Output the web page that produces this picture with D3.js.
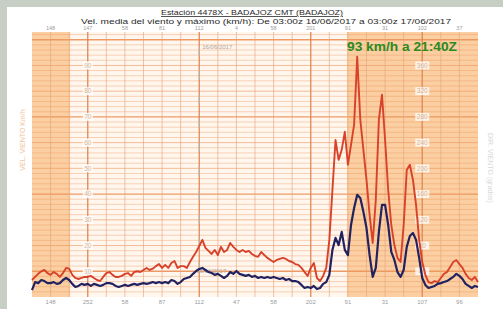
<!DOCTYPE html>
<html>
<head>
<meta charset="utf-8">
<script src="https://cdn.jsdelivr.net/npm/d3@7"></script>
<style>
  body { margin: 0; background: #c7cfc4; }
  #chart { position: absolute; left: 0; top: 0; }
</style>
</head>
<body>
<div id="chart"></div>
<script>
// racha maxima (km/h), cada 10 minutos desde 03:00z
const gustSpeed = [
  6.6,7.8,9,10,10.5,9.3,8.6,9.7,9,7.8,
  9.3,11.3,11,8.6,7.4,7,7.4,7.8,7.8,8.2,
  7.4,6.6,6.2,7.8,9.3,9.7,8.6,7.8,7.8,8.2,
  9,9.3,8.2,9.7,10,9.7,10.5,11.3,10.5,11,
  12,12.8,11.3,12.5,11.3,13.2,14,11.3,12,12,
  11.3,13.6,15.6,17.5,19.8,22.2,19.1,17.9,16.7,18.3,
  16.3,19.5,17.5,18.3,21,19.5,18.3,17.5,18.3,17.5,
  17.9,16.7,16,15.6,17.5,16.3,15.2,14.4,13.6,14.4,
  14.8,15.2,14.8,14,13.6,12.8,12.5,11.3,9.7,8.2,
  11.3,13.2,7.4,6.2,8.2,11.3,22.2,41.6,61,53.3,
  57.2,64.2,51.4,59.1,67,93.4,68.9,57.2,45.5,31.9,
  21,37.7,68.9,78.6,61,41.6,28,20.2,15.2,13.6,
  28,49.4,51.4,45.5,35.8,22.2,13.6,8.6,5.8,5.4,
  6.2,5.8,7.4,9,9.7,11.7,13.6,14.4,12.8,11.3,
  9,7.4,6.6,7.8,5.8
];
// velocidad media (km/h)
const meanSpeed = [
  2.7,5.8,5.4,6.6,6.2,5.4,5.4,5.8,5.1,5.4,
  6.6,7.4,6.6,5.1,3.9,4.3,5.1,4.7,5.1,4.3,
  5.1,4.7,4.3,4.7,5.4,5.4,5.1,4.3,3.9,4.3,
  4.7,4.3,4.7,5.1,4.7,5.1,5.4,5.1,5.4,5.8,
  5.4,5.8,5.4,5.8,5.4,6.6,6.2,5.1,5.8,7,
  7.4,7.8,9,10.1,10.9,11.3,10.5,9.7,9.3,8.6,
  9,8.2,7.4,8.2,9.7,9,10.1,9,8.6,8.2,
  8.6,7.8,8.2,7.4,7.8,7.4,7.8,7.4,7.8,7.4,
  7,7.4,6.6,7,6.2,6.2,5.8,4.7,3.5,3.9,
  3.5,4.3,3.1,3.5,5.1,5.8,8.6,18.3,23,20.2,
  25.3,18.3,16.3,28,34.6,39.7,38.5,33.1,26.8,16.3,
  7.8,11.3,25.3,35.8,35.8,28,17.5,14.4,9.7,7.8,
  10.5,19.5,23.7,24.9,22.2,15.2,7.4,4.7,3.5,3.9,
  4.3,5.1,5.4,5.8,6.2,7,7.8,9,8.2,7,
  5.1,4.3,3.5,4.3,3.9
];
// direcciones (grados) cada 2 horas, 04z ... 02z
const topLabels = ['148','147','58','81','112','4','58','201','91','31','102','37'];
const bottomLabels = ['148','252','58','87','112','47','58','202','91','31','107','96'];
const speedTicks = [10, 20, 30, 40, 50, 60, 70, 80, 90];
const dirTicks = ['40', '80', '120', '160', '200', '240', '280', '320', '360'];

const start = new Date(Date.UTC(2017, 5, 16, 3, 0));
const end = new Date(Date.UTC(2017, 5, 17, 3, 0));
const sunrise = new Date(Date.UTC(2017, 5, 16, 5, 3));
const sunset = new Date(Date.UTC(2017, 5, 16, 19, 57));
const noon = new Date(Date.UTC(2017, 5, 16, 12, 0));
const stepMin = 10;

const W = 503, H = 309;
const margin = { top: 32, right: 25, bottom: 12, left: 32 };
const width = W - margin.left - margin.right;
const height = H - margin.top - margin.bottom;

const svg = d3.select('#chart').append('svg')
  .attr('width', W).attr('height', H)
  .style('font-family', '"Liberation Sans", Arial, sans-serif');

svg.append('rect').attr('width', W).attr('height', H).attr('fill', '#c7cfc4');
svg.append('rect').attr('x', 7).attr('y', 7).attr('width', W - 7).attr('height', H - 7).attr('fill', '#ffffff');

const g = svg.append('g').attr('transform', `translate(${margin.left},${margin.top})`);

const x = d3.scaleUtc().domain([start, end]).range([0, width]);
const y = d3.scaleLinear().domain([0, 103]).range([height, 0]);
const yDir = d3.scaleLinear().domain([0, 412]).range([height, 0]);

const timeOf = (i) => new Date(start.getTime() + i * stepMin * 60000);

// fondo: dia claro, noche naranja
g.append('rect').attr('width', width).attr('height', height).attr('fill', '#fff6ee');
g.append('rect').attr('x', 0).attr('y', 0).attr('width', x(sunrise)).attr('height', height).attr('fill', '#fbcfa2');
g.append('rect').attr('x', x(sunset)).attr('y', 0).attr('width', width - x(sunset)).attr('height', height).attr('fill', '#fbcfa2');

// rejilla horizontal
g.append('g').selectAll('line')
  .data(d3.range(2, 104, 2))
  .enter().append('line')
  .attr('x1', 0).attr('x2', width)
  .attr('y1', (d) => y(d)).attr('y2', (d) => y(d))
  .attr('stroke', '#ea9158')
  .attr('stroke-opacity', (d) => d % 30 === 10 ? 0.9 : d % 10 === 0 ? 0.65 : 0.42)
  .attr('stroke-width', (d) => d % 30 === 10 ? 1.4 : 0.9);

// rejilla vertical
g.append('g').selectAll('line')
  .data(d3.utcHour.range(start, end).slice(1))
  .enter().append('line')
  .attr('x1', (d) => x(d)).attr('x2', (d) => x(d))
  .attr('y1', 0).attr('y2', height)
  .attr('stroke', (d) => d.getUTCHours() % 6 === 0 ? '#d98652' : '#e5a67c')
  .attr('stroke-opacity', (d) => d.getUTCHours() % 6 === 0 ? 0.95 : 0.7)
  .attr('stroke-width', (d) => d.getUTCHours() % 6 === 0 ? 1.3 : 0.9);

// marca del mediodia
g.append('line')
  .attr('x1', x(noon)).attr('x2', x(noon)).attr('y1', 14).attr('y2', height - 22)
  .attr('stroke', '#b9b2ab').attr('stroke-width', 1).attr('stroke-dasharray', '10,14');
g.append('text').attr('x', x(noon) + 3).attr('y', 17).attr('font-size', 6).attr('fill', '#b0a8a0').text('16/06/2017');
g.append('text').attr('x', x(noon) - 3).attr('y', height - 24).attr('font-size', 6).attr('fill', '#b0a8a0').text('16/06/2017');

// etiquetas eje velocidad (izq.) y direccion (der.)
const hour06 = new Date(Date.UTC(2017, 5, 16, 6, 0));
const hour00 = new Date(Date.UTC(2017, 5, 17, 0, 0));
const leftTicks = g.append('g').selectAll('g').data(speedTicks).enter().append('g')
  .attr('transform', (d) => `translate(${x(hour06)},${y(d)})`);
leftTicks.append('rect').attr('x', -5).attr('y', -4).attr('width', 10).attr('height', 8).attr('fill', '#ffffff').attr('opacity', 0.85);
leftTicks.append('text').attr('text-anchor', 'middle').attr('dy', '0.35em').attr('font-size', 6.5).attr('fill', '#d6b494').text((d) => d);

const rightTicks = g.append('g').selectAll('g').data(dirTicks).enter().append('g')
  .attr('transform', (d) => `translate(${x(hour00)},${yDir(+d)})`);
rightTicks.append('rect').attr('x', -7).attr('y', -4).attr('width', 14).attr('height', 8).attr('fill', '#ffffff').attr('opacity', 0.75);
rightTicks.append('text').attr('text-anchor', 'middle').attr('dy', '0.35em').attr('font-size', 6.5).attr('fill', '#d6b494').text((d) => d);

// ejes superior e inferior (direcciones cada 2 h)
const labelHours = d3.utcHour.every(2).range(new Date(Date.UTC(2017, 5, 16, 4)), end);
g.append('g').selectAll('text').data(labelHours).enter().append('text')
  .attr('x', (d) => x(d)).attr('y', -2).attr('text-anchor', 'middle')
  .attr('font-size', 5.5).attr('fill', '#9c9c9c').text((d, i) => topLabels[i]);
g.append('g').selectAll('text').data(labelHours).enter().append('text')
  .attr('x', (d) => x(d)).attr('y', height + 7).attr('text-anchor', 'middle')
  .attr('font-size', 6).attr('fill', '#9c9c9c').text((d, i) => bottomLabels[i]);

// series
const line = d3.line().x((d, i) => x(timeOf(i))).y((d) => y(d));
g.append('path').datum(gustSpeed).attr('d', line)
  .attr('fill', 'none').attr('stroke', '#d8422a').attr('stroke-width', 1.9).attr('stroke-linejoin', 'round');
g.append('path').datum(meanSpeed).attr('d', line)
  .attr('fill', 'none').attr('stroke', '#222260').attr('stroke-width', 2.2).attr('stroke-linejoin', 'round');

// anotacion de la racha maxima
g.append('text').attr('x', 315).attr('y', 19).attr('font-size', 12).attr('font-weight', 'bold')
  .attr('textLength', 110).attr('lengthAdjust', 'spacingAndGlyphs')
  .attr('fill', '#2a8a1e').text('93 km/h a 21:40Z');

// titulos
svg.append('text').attr('x', 252).attr('y', 15).attr('text-anchor', 'middle')
  .attr('font-size', 8).attr('fill', '#2a2a2a').attr('text-decoration', 'underline')
  .attr('textLength', 182).attr('lengthAdjust', 'spacingAndGlyphs')
  .text('Estación 4478X - BADAJOZ CMT (BADAJOZ)');
svg.append('text').attr('x', 266).attr('y', 23.5).attr('text-anchor', 'middle')
  .attr('font-size', 8).attr('fill', '#2a2a2a')
  .attr('textLength', 370).attr('lengthAdjust', 'spacingAndGlyphs')
  .text('Vel. media del viento y máximo (km/h):  De 03:00z 16/06/2017 a 03:00z 17/06/2017');

// titulos laterales
svg.append('text').attr('transform', 'translate(25,140) rotate(-90)').attr('text-anchor', 'middle')
  .attr('font-size', 7).attr('fill', '#f0c6a0').text('VEL. VIENTO Km/h');
svg.append('text').attr('transform', 'translate(488,168) rotate(90)').attr('text-anchor', 'middle')
  .attr('font-size', 7).attr('fill', '#d8d8d8').text('DIR. VIENTO (grados)');
</script>
</body>
</html>
